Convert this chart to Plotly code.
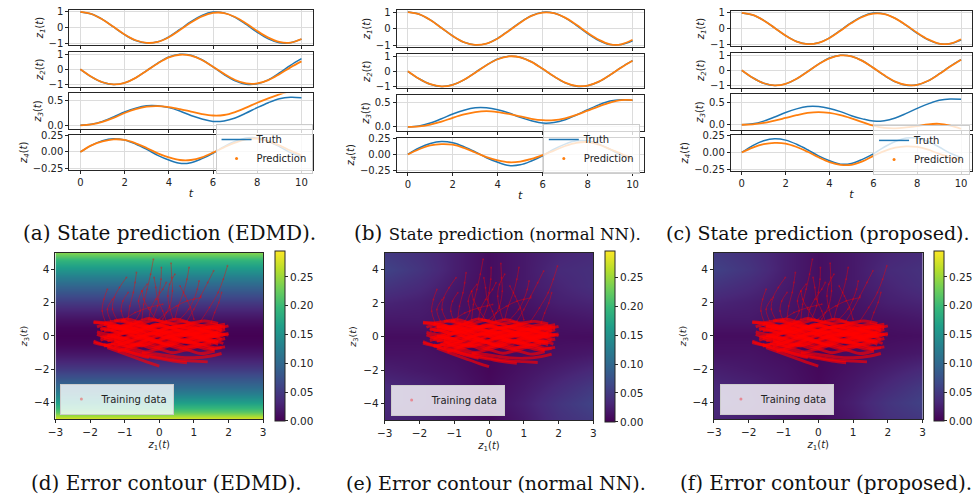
import plotly.graph_objects as go

W, H = 979, 504

# ---------------- data: state prediction ----------------
T = [0, 0.5, 1, 1.5, 2, 2.5, 3, 3.5, 4, 4.5, 5, 5.5, 6, 6.5, 7, 7.5, 8, 8.5, 9, 9.5, 10]

Z1_TRUTH = [1.00, 0.87, 0.52, 0.04, -0.45, -0.83, -0.99, -0.91, -0.59, -0.12, 0.38, 0.78, 0.99, 0.94, 0.65, 0.20, -0.30, -0.72, -0.97, -0.97, -0.74]
Z2_TRUTH = [0.00, -0.49, -0.85, -1.00, -0.89, -0.56, -0.08, 0.41, 0.81, 0.99, 0.93, 0.63, 0.16, -0.34, -0.76, -0.98, -0.95, -0.69, -0.24, 0.26, 0.70]
Z3_TRUTH = [0.00, 0.02, 0.08, 0.17, 0.27, 0.35, 0.40, 0.40, 0.36, 0.29, 0.20, 0.13, 0.08, 0.09, 0.15, 0.25, 0.36, 0.46, 0.54, 0.57, 0.56]
Z4_TRUTH = [0.00, 0.10, 0.17, 0.20, 0.18, 0.12, 0.04, -0.05, -0.12, -0.17, -0.16, -0.10, -0.02, 0.08, 0.16, 0.21, 0.21, 0.16, 0.08, -0.01, -0.07]

# EDMD predictions
Z1_EDMD = [1.00, 0.87, 0.52, 0.05, -0.44, -0.81, -0.98, -0.92, -0.62, -0.16, 0.32, 0.72, 0.94, 0.93, 0.68, 0.26, -0.22, -0.64, -0.92, -0.96, -0.73]
Z2_EDMD = [0.00, -0.49, -0.85, -0.99, -0.89, -0.56, -0.09, 0.39, 0.78, 0.96, 0.90, 0.61, 0.17, -0.30, -0.70, -0.93, -0.93, -0.71, -0.32, 0.13, 0.52]
Z3_EDMD = [0.00, 0.02, 0.07, 0.15, 0.25, 0.33, 0.38, 0.39, 0.37, 0.33, 0.28, 0.23, 0.20, 0.21, 0.27, 0.36, 0.46, 0.55, 0.63, 0.70, 0.76]
Z4_EDMD = [0.00, 0.10, 0.16, 0.19, 0.18, 0.13, 0.06, -0.02, -0.08, -0.12, -0.12, -0.08, -0.01, 0.07, 0.14, 0.19, 0.20, 0.16, 0.10, 0.02, -0.05]

# normal NN predictions
Z1_NN = [1.00, 0.87, 0.52, 0.04, -0.45, -0.83, -0.99, -0.91, -0.60, -0.13, 0.36, 0.77, 0.97, 0.93, 0.66, 0.23, -0.26, -0.68, -0.95, -0.95, -0.68]
Z2_NN = [0.00, -0.49, -0.85, -0.99, -0.89, -0.56, -0.09, 0.40, 0.79, 0.98, 0.92, 0.62, 0.16, -0.33, -0.74, -0.96, -0.94, -0.68, -0.24, 0.25, 0.69]
Z3_NN = [0.00, 0.01, 0.05, 0.11, 0.19, 0.26, 0.31, 0.33, 0.31, 0.27, 0.22, 0.17, 0.14, 0.14, 0.18, 0.25, 0.34, 0.43, 0.51, 0.56, 0.56]
Z4_NN = [0.00, 0.08, 0.14, 0.16, 0.15, 0.10, 0.03, -0.04, -0.09, -0.12, -0.11, -0.07, -0.01, 0.06, 0.13, 0.18, 0.19, 0.15, 0.08, 0.01, -0.07]

# proposed predictions
Z1_PROP = [1.00, 0.87, 0.52, 0.04, -0.45, -0.83, -0.99, -0.91, -0.60, -0.14, 0.35, 0.75, 0.95, 0.92, 0.65, 0.22, -0.27, -0.69, -0.96, -0.96, -0.68]
Z2_PROP = [0.00, -0.49, -0.85, -0.99, -0.89, -0.56, -0.09, 0.40, 0.79, 0.98, 0.92, 0.62, 0.16, -0.33, -0.74, -0.96, -0.95, -0.69, -0.25, 0.25, 0.70]
Z3_PROP = [0.00, 0.01, 0.04, 0.09, 0.15, 0.21, 0.26, 0.28, 0.26, 0.21, 0.14, 0.06, -0.02, -0.07, -0.08, -0.06, -0.03, 0.01, 0.02, -0.02, -0.09]
Z4_PROP = [0.00, 0.07, 0.12, 0.14, 0.13, 0.08, 0.01, -0.07, -0.14, -0.18, -0.18, -0.13, -0.05, 0.02, 0.07, 0.09, 0.08, 0.04, -0.02, -0.07, -0.11]

Y_LABELS = ["z<sub>1</sub>", "z<sub>2</sub>", "z<sub>3</sub>", "z<sub>4</sub>"]

# ---------------- data: error contours ----------------
COLORBAR_TICKS = [0.00, 0.05, 0.10, 0.15, 0.20, 0.25]
COLORBAR_TEXT = ["0.00", "0.05", "0.10", "0.15", "0.20", "0.25"]

# EDMD error: nearly independent of z1, profile along z3
EDMD_Z1 = [-3, 3]
EDMD_Z3 = [-5, -4.5, -4, -3.5, -3, -2.5, -2, -1.5, -1, -0.5, 0, 0.5, 1, 1.5, 2, 2.5, 3, 3.5, 4, 4.5, 5]
EDMD_ERR_PROFILE = [0.285, 0.215, 0.165, 0.13, 0.10, 0.075, 0.052, 0.032, 0.016, 0.005, 0.0,
                    0.004, 0.014, 0.03, 0.05, 0.072, 0.097, 0.125, 0.155, 0.19, 0.24]

GRID_Z1 = [-3, -2, -1, 0, 1, 2, 3]
GRID_Z3 = [-5, -4, -3, -2, -1, 0, 1, 2, 3, 4, 5]
NN_ERR = [
    [0.030, 0.025, 0.015, 0.005, 0.020, 0.040, 0.050],
    [0.035, 0.030, 0.020, 0.010, 0.025, 0.045, 0.060],
    [0.035, 0.030, 0.020, 0.008, 0.020, 0.035, 0.050],
    [0.025, 0.020, 0.015, 0.005, 0.015, 0.025, 0.035],
    [0.015, 0.015, 0.010, 0.005, 0.010, 0.015, 0.020],
    [0.010, 0.010, 0.008, 0.005, 0.008, 0.010, 0.010],
    [0.020, 0.020, 0.015, 0.010, 0.010, 0.015, 0.020],
    [0.030, 0.025, 0.015, 0.010, 0.015, 0.025, 0.030],
    [0.045, 0.035, 0.020, 0.010, 0.020, 0.030, 0.040],
    [0.060, 0.045, 0.025, 0.010, 0.020, 0.035, 0.040],
    [0.050, 0.040, 0.025, 0.010, 0.020, 0.030, 0.035],
]
PROP_ERR = [
    [0.030, 0.025, 0.015, 0.008, 0.020, 0.040, 0.048],
    [0.035, 0.030, 0.020, 0.010, 0.025, 0.045, 0.058],
    [0.033, 0.028, 0.018, 0.008, 0.020, 0.035, 0.050],
    [0.025, 0.020, 0.015, 0.006, 0.015, 0.025, 0.035],
    [0.015, 0.015, 0.010, 0.005, 0.010, 0.015, 0.020],
    [0.010, 0.010, 0.008, 0.005, 0.008, 0.010, 0.012],
    [0.020, 0.020, 0.015, 0.010, 0.012, 0.015, 0.020],
    [0.030, 0.025, 0.018, 0.010, 0.015, 0.025, 0.030],
    [0.045, 0.035, 0.022, 0.012, 0.020, 0.030, 0.040],
    [0.058, 0.045, 0.025, 0.012, 0.020, 0.035, 0.042],
    [0.050, 0.040, 0.025, 0.012, 0.020, 0.030, 0.036],
]

# training trajectories (z1, z3)
# dense core of wiggly, mostly horizontal trajectories
CORE_Z1 = [
    [-1.9, -1.5, -1.1, -0.7, -0.3, 0.1, 0.5, 0.9, 1.3, 1.7, 2.0],
    [-1.6, -1.2, -0.8, -0.4, 0.0, 0.4, 0.8, 1.2, 1.6, 1.9],
    [-1.5, -1.1, -0.7, -0.3, 0.1, 0.5, 0.9, 1.3, 1.7],
    [-1.7, -1.3, -0.9, -0.5, -0.1, 0.3, 0.7, 1.1, 1.5, 1.8],
    [-1.4, -1.0, -0.6, -0.2, 0.2, 0.6, 1.0, 1.4, 1.8],
    [-1.6, -1.2, -0.8, -0.4, 0.0, 0.4, 0.8, 1.2, 1.6],
    [-1.3, -0.9, -0.5, -0.1, 0.3, 0.7, 1.1, 1.5, 1.9],
    [-1.8, -1.4, -1.0, -0.6, -0.2, 0.2, 0.6, 1.0, 1.4, 1.75],
    [-1.5, -1.1, -0.7, -0.3, 0.1, 0.5, 0.9, 1.3, 1.7],
    [-1.2, -0.8, -0.4, 0.0, 0.4, 0.8, 1.2, 1.6],
    [-1.7, -1.3, -0.9, -0.5, -0.1, 0.3, 0.7, 1.1, 1.5, 1.9],
    [-1.4, -1.0, -0.6, -0.2, 0.2, 0.6, 1.0, 1.4, 1.8],
    [-1.9, -1.5, -1.1, -0.7, -0.3, 0.1, 0.5, 0.9, 1.3, 1.6],
    [-1.1, -0.7, -0.3, 0.1, 0.5, 0.9, 1.3, 1.7, 2.0],
    [-1.6, -1.2, -0.8, -0.4, 0.0, 0.4, 0.8],
    [-1.0, -0.6, -0.2, 0.2, 0.6, 1.0, 1.4],
    [-1.5, -1.1, -0.7, -0.3, 0.0],
    [-1.8, -1.4, -1.0, -0.6, -0.2, 0.2, 0.6, 1.0, 1.4, 1.8],
    [-1.3, -0.9, -0.5, -0.1, 0.3, 0.7, 1.1, 1.5, 1.85],
    [-1.6, -1.2, -0.8, -0.4, 0.0, 0.4, 0.8, 1.2, 1.6, 1.9],
    [-1.2, -0.8, -0.4, 0.0, 0.4, 0.8, 1.2, 1.6, 1.9],
    [-1.9, -1.6, -1.2, -0.8],
    [-1.5, -1.1, -0.7, -0.3, 0.1, 0.5, 0.9, 1.3, 1.7],
    [-1.7, -1.3, -0.9, -0.5, -0.1, 0.3, 0.7, 1.1, 1.5],
    [-1.5, -1.1, -0.7, -0.3, 0.1, 0.5, 0.9, 1.3, 1.7],
    [-1.3, -0.9, -0.5, -0.1, 0.3, 0.7, 1.1, 1.5],
    [-1.8, -1.4, -1.0, -0.6, -0.2, 0.2, 0.6, 1.0, 1.4, 1.8],
    [-1.6, -1.2, -0.8, -0.4, 0.0, 0.4, 0.8, 1.2, 1.6, 2.0],
    [-1.1, -0.7, -0.3, 0.1, 0.5, 0.9, 1.3, 1.7],
    [-1.4, -1.0, -0.6, -0.2, 0.2, 0.6, 1.0, 1.4, 1.8],
    [-1.7, -1.3, -0.9, -0.5, -0.1, 0.3, 0.7, 1.1, 1.5, 1.9],
    [-1.2, -0.8, -0.4, 0.0, 0.4, 0.8, 1.2, 1.6],
    [-1.9, -1.5, -1.1, -0.7, -0.3],
    [-0.5, 0.0, 0.5, 1.0, 1.5, 1.8],
    [-1.5, -1.0, -0.5, 0.0, 0.5, 1.0, 1.5],
    [-1.3, -0.8, -0.3, 0.2, 0.7, 1.2, 1.7],
]
CORE_Z3 = [
    [0.8, 0.75, 0.6, 0.7, 0.55, 0.6, 0.4, 0.5, 0.35, 0.45, 0.6],
    [0.3, 0.45, 0.2, 0.35, 0.1, 0.3, 0.05, 0.2, -0.05, 0.1],
    [-0.3, -0.1, -0.35, -0.15, -0.4, -0.2, -0.45, -0.25, -0.5],
    [0.5, 0.3, 0.6, 0.4, 0.7, 0.5, 0.65, 0.4, 0.55, 0.35],
    [0.0, 0.2, -0.05, 0.15, -0.1, 0.1, -0.15, 0.05, -0.2],
    [-0.6, -0.45, -0.7, -0.5, -0.75, -0.55, -0.8, -0.6, -0.85],
    [0.9, 1.0, 0.8, 0.95, 0.75, 0.85, 0.6, 0.7, 0.5],
    [0.1, -0.1, 0.15, -0.05, 0.2, 0.0, 0.25, 0.05, 0.2, 0.0],
    [0.6, 0.45, 0.3, 0.45, 0.25, 0.35, 0.2, 0.3, 0.1],
    [-0.9, -0.75, -0.95, -0.8, -1.0, -0.85, -1.05, -0.9],
    [-0.1, 0.05, -0.2, 0.0, -0.25, -0.05, -0.3, -0.1, -0.3, -0.15],
    [0.35, 0.55, 0.4, 0.6, 0.45, 0.55, 0.4, 0.5, 0.3],
    [-0.4, -0.55, -0.35, -0.5, -0.3, -0.45, -0.25, -0.4, -0.2, -0.35],
    [0.15, 0.3, 0.1, 0.25, 0.05, 0.2, 0.0, 0.15, 0.05],
    [-0.5, -0.8, -1.0, -1.2, -1.35, -1.5, -1.6],
    [-0.8, -1.0, -1.2, -1.35, -1.45, -1.5, -1.55],
    [-0.7, -1.0, -1.3, -1.6, -1.8],
    [0.25, 0.1, 0.35, 0.15, 0.4, 0.2, 0.35, 0.15, 0.3, 0.1],
    [-0.2, -0.35, -0.1, -0.3, -0.05, -0.25, 0.0, -0.2, -0.45],
    [0.7, 0.55, 0.75, 0.5, 0.7, 0.5, 0.65, 0.45, 0.6, 0.7],
    [-0.5, -0.6, -0.4, -0.6, -0.45, -0.65, -0.5, -0.7, -0.65],
    [0.85, 0.8, 0.9, 0.75],
    [0.05, -0.15, 0.1, -0.1, 0.15, -0.05, 0.1, -0.1, 0.05],
    [-0.25, -0.05, -0.3, -0.1, -0.35, -0.15, -0.4, -0.2, -0.45],
    [0.45, 0.2, 0.4, 0.15, 0.35, 0.1, 0.3, 0.05, 0.25],
    [-0.65, -0.4, -0.6, -0.35, -0.55, -0.3, -0.5, -0.3],
    [0.55, 0.75, 0.5, 0.8, 0.55, 0.8, 0.6, 0.75, 0.5, 0.55],
    [-0.15, -0.3, -0.05, -0.25, 0.0, -0.2, 0.05, -0.15, 0.0, 0.15],
    [0.95, 0.8, 1.05, 0.85, 1.0, 0.8, 0.9, 0.75],
    [-0.45, -0.7, -0.5, -0.75, -0.55, -0.75, -0.6, -0.8, -0.7],
    [0.35, 0.6, 0.4, 0.55, 0.3, 0.5, 0.25, 0.45, 0.2, 0.4],
    [0.05, 0.25, 0.0, 0.2, -0.05, 0.15, -0.1, 0.1],
    [-0.3, -0.6, -0.8, -1.1, -1.3],
    [-1.0, -1.1, -1.25, -1.3, -1.2, -1.05],
    [0.6, 0.4, 0.65, 0.35, 0.6, 0.3, 0.45],
    [-0.3, -0.55, -0.25, -0.5, -0.2, -0.5, -0.35],
]
# fainter trajectories rising from the core towards large z3
RISE_Z1 = [
    [-1.55, -1.65, -1.6, -1.5],
    [-1.2, -1.35, -1.3, -1.15, -0.95],
    [-0.9, -0.85, -0.75, -0.7, -0.66],
    [-0.5, -0.45, -0.35, -0.25, -0.17],
    [-0.2, -0.05, 0.0, 0.05, 0.06],
    [0.1, 0.3, 0.38, 0.36, 0.34],
    [0.45, 0.55, 0.7, 0.8, 0.86],
    [0.8, 1.0, 1.2, 1.4, 1.57],
    [1.2, 1.45, 1.7, 1.85, 1.97],
    [-1.0, -1.1, -1.05, -0.9],
    [0.6, 0.85, 1.0, 1.1, 1.15],
    [-0.3, -0.25, -0.1, 0.1, 0.2],
    [1.5, 1.6, 1.72, 1.8],
    [-0.7, -0.55, -0.6, -0.5, -0.35],
    [0.2, 0.1, -0.05, -0.1, -0.15],
    [1.0, 0.9, 0.75, 0.6],
    [-1.4, -1.5, -1.35],
    [0.0, 0.2, 0.5, 0.8, 1.2],
    [-1.0, -0.7, -0.3, 0.1],
    [0.4, 0.3, 0.25, 0.3, 0.45],
    [-0.1, -0.3, -0.45, -0.5],
]
RISE_Z3 = [
    [0.8, 1.5, 2.2, 2.8],
    [0.9, 1.6, 2.3, 2.9, 3.5],
    [1.0, 1.8, 2.6, 3.2, 3.8],
    [1.0, 1.9, 2.8, 3.7, 4.6],
    [1.0, 1.8, 2.6, 3.4, 4.1],
    [1.0, 1.8, 2.7, 3.5, 4.35],
    [1.0, 1.8, 2.6, 3.4, 4.1],
    [0.9, 1.6, 2.4, 3.2, 3.9],
    [0.9, 1.7, 2.6, 3.4, 4.2],
    [0.9, 1.5, 2.1, 2.6],
    [1.0, 1.6, 2.2, 2.8, 3.3],
    [1.0, 1.6, 2.2, 2.8, 3.2],
    [0.8, 1.4, 2.0, 2.6],
    [0.9, 1.5, 2.1, 2.7, 3.1],
    [0.9, 1.5, 2.2, 2.9, 3.5],
    [1.0, 1.7, 2.4, 3.0],
    [0.9, 1.6, 2.2],
    [1.0, 1.4, 1.8, 2.1, 2.3],
    [1.0, 1.4, 1.7, 1.9],
    [1.0, 1.7, 2.4, 3.1, 3.7],
    [1.0, 1.6, 2.2, 2.7],
]

# ---------------- layout geometry (pixels) ----------------
TOP_PANELS = [
    dict(x0=62, x1=308, rows=[(5, 41), (48, 83), (90, 126), (132, 168)],
         z3range=[-0.07, 0.65], leg=(308, 172),
         preds=[Z1_EDMD, Z2_EDMD, Z3_EDMD, Z4_EDMD]),
    dict(x0=393, x1=643, rows=[(5, 43), (50, 85), (92, 128), (135, 170)],
         z3range=[-0.08, 0.66], leg=(639, 172),
         preds=[Z1_NN, Z2_NN, Z3_NN, Z4_NN]),
    dict(x0=731, x1=975, rows=[(6, 42), (49, 84), (91, 127), (132, 169)],
         z3range=[-0.11, 0.67], leg=(973, 173),
         preds=[Z1_PROP, Z2_PROP, Z3_PROP, Z4_PROP]),
]
BOT_PANELS = [
    dict(x0=48, x1=258, y0=252, y1=422, cb=270, leg=(53, 417)),
    dict(x0=381, x1=592, y0=252, y1=423, cb=604, leg=(387, 418)),
    dict(x0=714, x1=925, y0=252, y1=422, cb=937, leg=(720, 417)),
]

FONT = "DejaVu Sans"
AX_COL = "#262626"
GRID_COL = "#dcdcdc"

fig = go.Figure()
layout = dict(width=W, height=H, margin=dict(l=0, r=0, t=0, b=0),
              paper_bgcolor="white", plot_bgcolor="white", showlegend=True,
              font=dict(family=FONT, size=10, color="#222"))


def fx(p):
    return p / W


def fy(p):
    return 1 - p / H


legend_n = 0


def new_legend(x, y, xanchor, yanchor, size=10):
    global legend_n
    legend_n += 1
    name = "legend" if legend_n == 1 else f"legend{legend_n}"
    layout[name] = dict(x=fx(x), y=fy(y), xanchor=xanchor, yanchor=yanchor,
                        bgcolor="rgba(255,255,255,0.8)", bordercolor="#cccccc",
                        borderwidth=1, font=dict(size=size, family=FONT, color="#222"),
                        itemwidth=30, tracegroupgap=0)
    return name


truths = [Z1_TRUTH, Z2_TRUTH, Z3_TRUTH, Z4_TRUTH]
ax = 0
for p in TOP_PANELS:
    lg = new_legend(p["leg"][0], p["leg"][1], "right", "bottom")
    for r in range(4):
        ax += 1
        xa = "xaxis" if ax == 1 else f"xaxis{ax}"
        ya = "yaxis" if ax == 1 else f"yaxis{ax}"
        xr = "x" if ax == 1 else f"x{ax}"
        yr = "y" if ax == 1 else f"y{ax}"
        y0, y1 = p["rows"][r]
        layout[xa] = dict(domain=[fx(p["x0"]), fx(p["x1"])], anchor=yr, range=[-0.5, 10.5],
                          tickvals=[0, 2, 4, 6, 8, 10], showticklabels=(r == 3),
                          showgrid=True, gridcolor=GRID_COL, gridwidth=1, zeroline=False,
                          showline=True, mirror=True, linecolor=AX_COL, linewidth=1,
                          ticks="outside", ticklen=3, tickcolor=AX_COL,
                          tickfont=dict(size=10, family=FONT, color="#222"))
        if r == 3:
            layout[xa]["title"] = dict(text="<i>t</i>", standoff=2,
                                       font=dict(size=11, family=FONT, color="#222"))
        if r < 2:
            yrange, yt, yfmt = [-1.13, 1.13], [-1, 0, 1], None
        elif r == 2:
            yrange, yt, yfmt = p["z3range"], [0.0, 0.5], ".1f"
        else:
            yrange, yt, yfmt = [-0.27, 0.26], [-0.25, 0.0, 0.25], ".2f"
        yd = dict(domain=[fy(y1), fy(y0)], anchor=xr, range=yrange, tickvals=yt,
                  showgrid=True, gridcolor=GRID_COL, gridwidth=1, zeroline=False,
                  showline=True, mirror=True, linecolor=AX_COL, linewidth=1,
                  ticks="outside", ticklen=3, tickcolor=AX_COL,
                  tickfont=dict(size=10, family=FONT, color="#222"),
                  title=dict(text=f"<i>{Y_LABELS[r]}</i>(<i>t</i>)", standoff=3,
                             font=dict(size=10, family=FONT, color="#222")))
        if yfmt:
            yd["tickformat"] = yfmt
        layout[ya] = yd
        fig.add_trace(go.Scatter(x=T, y=truths[r], mode="lines", xaxis=xr, yaxis=yr,
                                 line=dict(color="#1f77b4", width=1.5, shape="spline"),
                                 name="Truth", legend=lg, showlegend=(r == 3)))
        fig.add_trace(go.Scatter(x=T, y=p["preds"][r], mode="lines", xaxis=xr, yaxis=yr,
                                 line=dict(color="#ff7f0e", width=1.8, shape="spline"),
                                 name="Prediction", legend=lg, showlegend=False))
        if r == 3:
            fig.add_trace(go.Scatter(x=[None], y=[None], mode="markers", xaxis=xr, yaxis=yr,
                                     marker=dict(color="#ff7f0e", size=3),
                                     name="Prediction", legend=lg, showlegend=True))

errs = [
    (EDMD_Z1, EDMD_Z3, [[v, v] for v in EDMD_ERR_PROFILE]),
    (GRID_Z1, GRID_Z3, NN_ERR),
    (GRID_Z1, GRID_Z3, PROP_ERR),
]
for i, p in enumerate(BOT_PANELS):
    ax += 1
    xa, ya, xr, yr = f"xaxis{ax}", f"yaxis{ax}", f"x{ax}", f"y{ax}"
    lg = new_legend(p["leg"][0], p["leg"][1], "left", "bottom")
    layout[xa] = dict(domain=[fx(p["x0"]), fx(p["x1"])], anchor=yr, range=[-3, 3],
                      tickvals=[-3, -2, -1, 0, 1, 2, 3], showgrid=False, zeroline=False,
                      showline=True, mirror=True, linecolor=AX_COL, linewidth=1,
                      ticks="outside", ticklen=3, tickcolor=AX_COL,
                      tickfont=dict(size=10.5, family=FONT, color="#222"),
                      title=dict(text="<i>z</i><sub>1</sub>(<i>t</i>)", standoff=3,
                                 font=dict(size=10, family=FONT, color="#222")))
    layout[ya] = dict(domain=[fy(p["y1"]), fy(p["y0"])], anchor=xr, range=[-5, 5],
                      tickvals=[-4, -2, 0, 2, 4], showgrid=False, zeroline=False,
                      showline=True, mirror=True, linecolor=AX_COL, linewidth=1,
                      ticks="outside", ticklen=3, tickcolor=AX_COL,
                      tickfont=dict(size=10.5, family=FONT, color="#222"),
                      title=dict(text="<i>z</i><sub>3</sub>(<i>t</i>)", standoff=4,
                                 font=dict(size=9.5, family=FONT, color="#222")))
    gx, gy, gz = errs[i]
    fig.add_trace(go.Heatmap(x=gx, y=gy, z=gz, xaxis=xr, yaxis=yr, zsmooth="best",
                             colorscale="Viridis", zmin=0, zmax=0.295, showscale=True,
                             showlegend=False, hoverinfo="skip",
                             colorbar=dict(x=fx(p["cb"]), xanchor="left", xpad=0,
                                           y=fy((p["y0"] + p["y1"]) / 2), yanchor="middle",
                                           ypad=0, len=p["y1"] - p["y0"], lenmode="pixels",
                                           thickness=10, thicknessmode="pixels",
                                           outlinewidth=1, outlinecolor=AX_COL,
                                           tickvals=COLORBAR_TICKS, ticktext=COLORBAR_TEXT,
                                           ticks="outside", ticklen=3, tickcolor=AX_COL,
                                           tickfont=dict(size=10.5, family=FONT, color="#222"))))
    for tz1, tz3 in zip(RISE_Z1, RISE_Z3):
        fig.add_trace(go.Scatter(x=tz1, y=tz3, mode="lines+markers", xaxis=xr, yaxis=yr,
                                 line=dict(color="rgba(255,0,0,0.4)", width=1, shape="spline"),
                                 marker=dict(color="rgba(255,0,0,0.35)", size=2),
                                 showlegend=False, hoverinfo="skip"))
    for tz1, tz3 in zip(CORE_Z1, CORE_Z3):
        fig.add_trace(go.Scatter(x=tz1, y=tz3, mode="lines", xaxis=xr, yaxis=yr,
                                 line=dict(color="rgba(255,0,0,0.65)", width=2.9, shape="spline"),
                                 showlegend=False, hoverinfo="skip"))
    fig.add_trace(go.Scatter(x=[None], y=[None], mode="markers", xaxis=xr, yaxis=yr,
                             marker=dict(color="rgba(255,0,0,0.35)", size=3),
                             name="Training data", legend=lg, showlegend=True))

# ---------------- captions ----------------
SERIF = "DejaVu Serif"
CAPTIONS = [
    ("(a) State prediction (EDMD).", 163, 232, 20),
    ("(b) <span style='font-size:16.5px'>State prediction (normal NN).</span>", 495, 232, 20),
    ("(c) State prediction (proposed).", 819, 232, 19),
    ("(d) Error contour (EDMD).", 160, 487, 20),
    ("(e) Error contour (normal NN).", 494, 487, 19),
    ("(f) Error contour (proposed).", 827, 487, 20),
]
layout["annotations"] = [
    dict(text=t, x=fx(cx), y=fy(cy), xref="paper", yref="paper", xanchor="center",
         yanchor="middle", showarrow=False, font=dict(family=SERIF, size=s, color="#111"))
    for t, cx, cy, s in CAPTIONS
]

fig.update_layout(**layout)
fig.write_html("out.html")
